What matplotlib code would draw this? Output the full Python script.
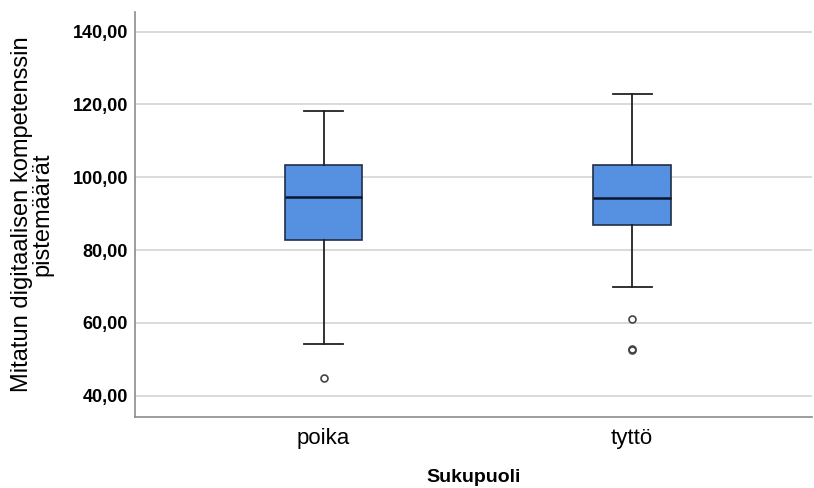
import matplotlib.pyplot as plt
from matplotlib.ticker import FuncFormatter

plt.rcParams['font.family'] = ['Liberation Sans', 'DejaVu Sans']

# Box statistics
groups = ["poika", "tyttö"]
whislo = [54.3, 69.9]
q1 = [82.8, 87.0]
med = [94.7, 94.2]
q3 = [103.5, 103.3]
whishi = [118.1, 123.0]
fliers = [[44.9], [61.0, 52.8, 52.5]]

stats = []
for i, g in enumerate(groups):
    stats.append(dict(label=g, whislo=whislo[i], q1=q1[i], med=med[i],
                      q3=q3[i], whishi=whishi[i], fliers=fliers[i]))

fig = plt.figure(figsize=(8.14, 4.88), dpi=100)
ax = fig.add_axes([0.166, 0.1455, 0.8315, 0.83])

ax.yaxis.grid(True, color="#d4d4d4", linewidth=1.2)
ax.set_axisbelow(True)

ax.bxp(stats, positions=[1, 2], widths=0.251, patch_artist=True,
       boxprops=dict(facecolor="#5591e0", edgecolor="#1f2f4a", linewidth=1.2),
       medianprops=dict(color="#0a1530", linewidth=1.8),
       whiskerprops=dict(color="#222222", linewidth=1.3),
       capprops=dict(color="#222222", linewidth=1.3),
       capwidths=0.126,
       flierprops=dict(marker="o", markersize=5, markerfacecolor="none",
                       markeredgecolor="#444444", markeredgewidth=1.2))

ax.set_xlim(0.389, 2.583)
ax.set_ylim(34.15, 145.4)
ax.set_yticks([40, 60, 80, 100, 120, 140])
ax.yaxis.set_major_formatter(FuncFormatter(lambda v, p: f"{v:.2f}".replace(".", ",")))

for lab in ax.get_yticklabels():
    lab.set_fontweight("bold")
    lab.set_fontsize(13)
ax.tick_params(axis="both", length=0)
ax.tick_params(axis="y", pad=5)
ax.tick_params(axis="x", labelsize=16, pad=8)

for s in ["top", "right"]:
    ax.spines[s].set_visible(False)
for s in ["left", "bottom"]:
    ax.spines[s].set_color("#8c8c8c")
    ax.spines[s].set_linewidth(1.2)

ax.set_ylabel("Mitatun digitaalisen kompetenssin\npistemäärät", fontsize=17,
              linespacing=0.92, labelpad=14)
ax.set_xlabel("Sukupuoli", fontsize=14, fontweight="bold", labelpad=14)

fig.savefig("out.png", dpi=100)
